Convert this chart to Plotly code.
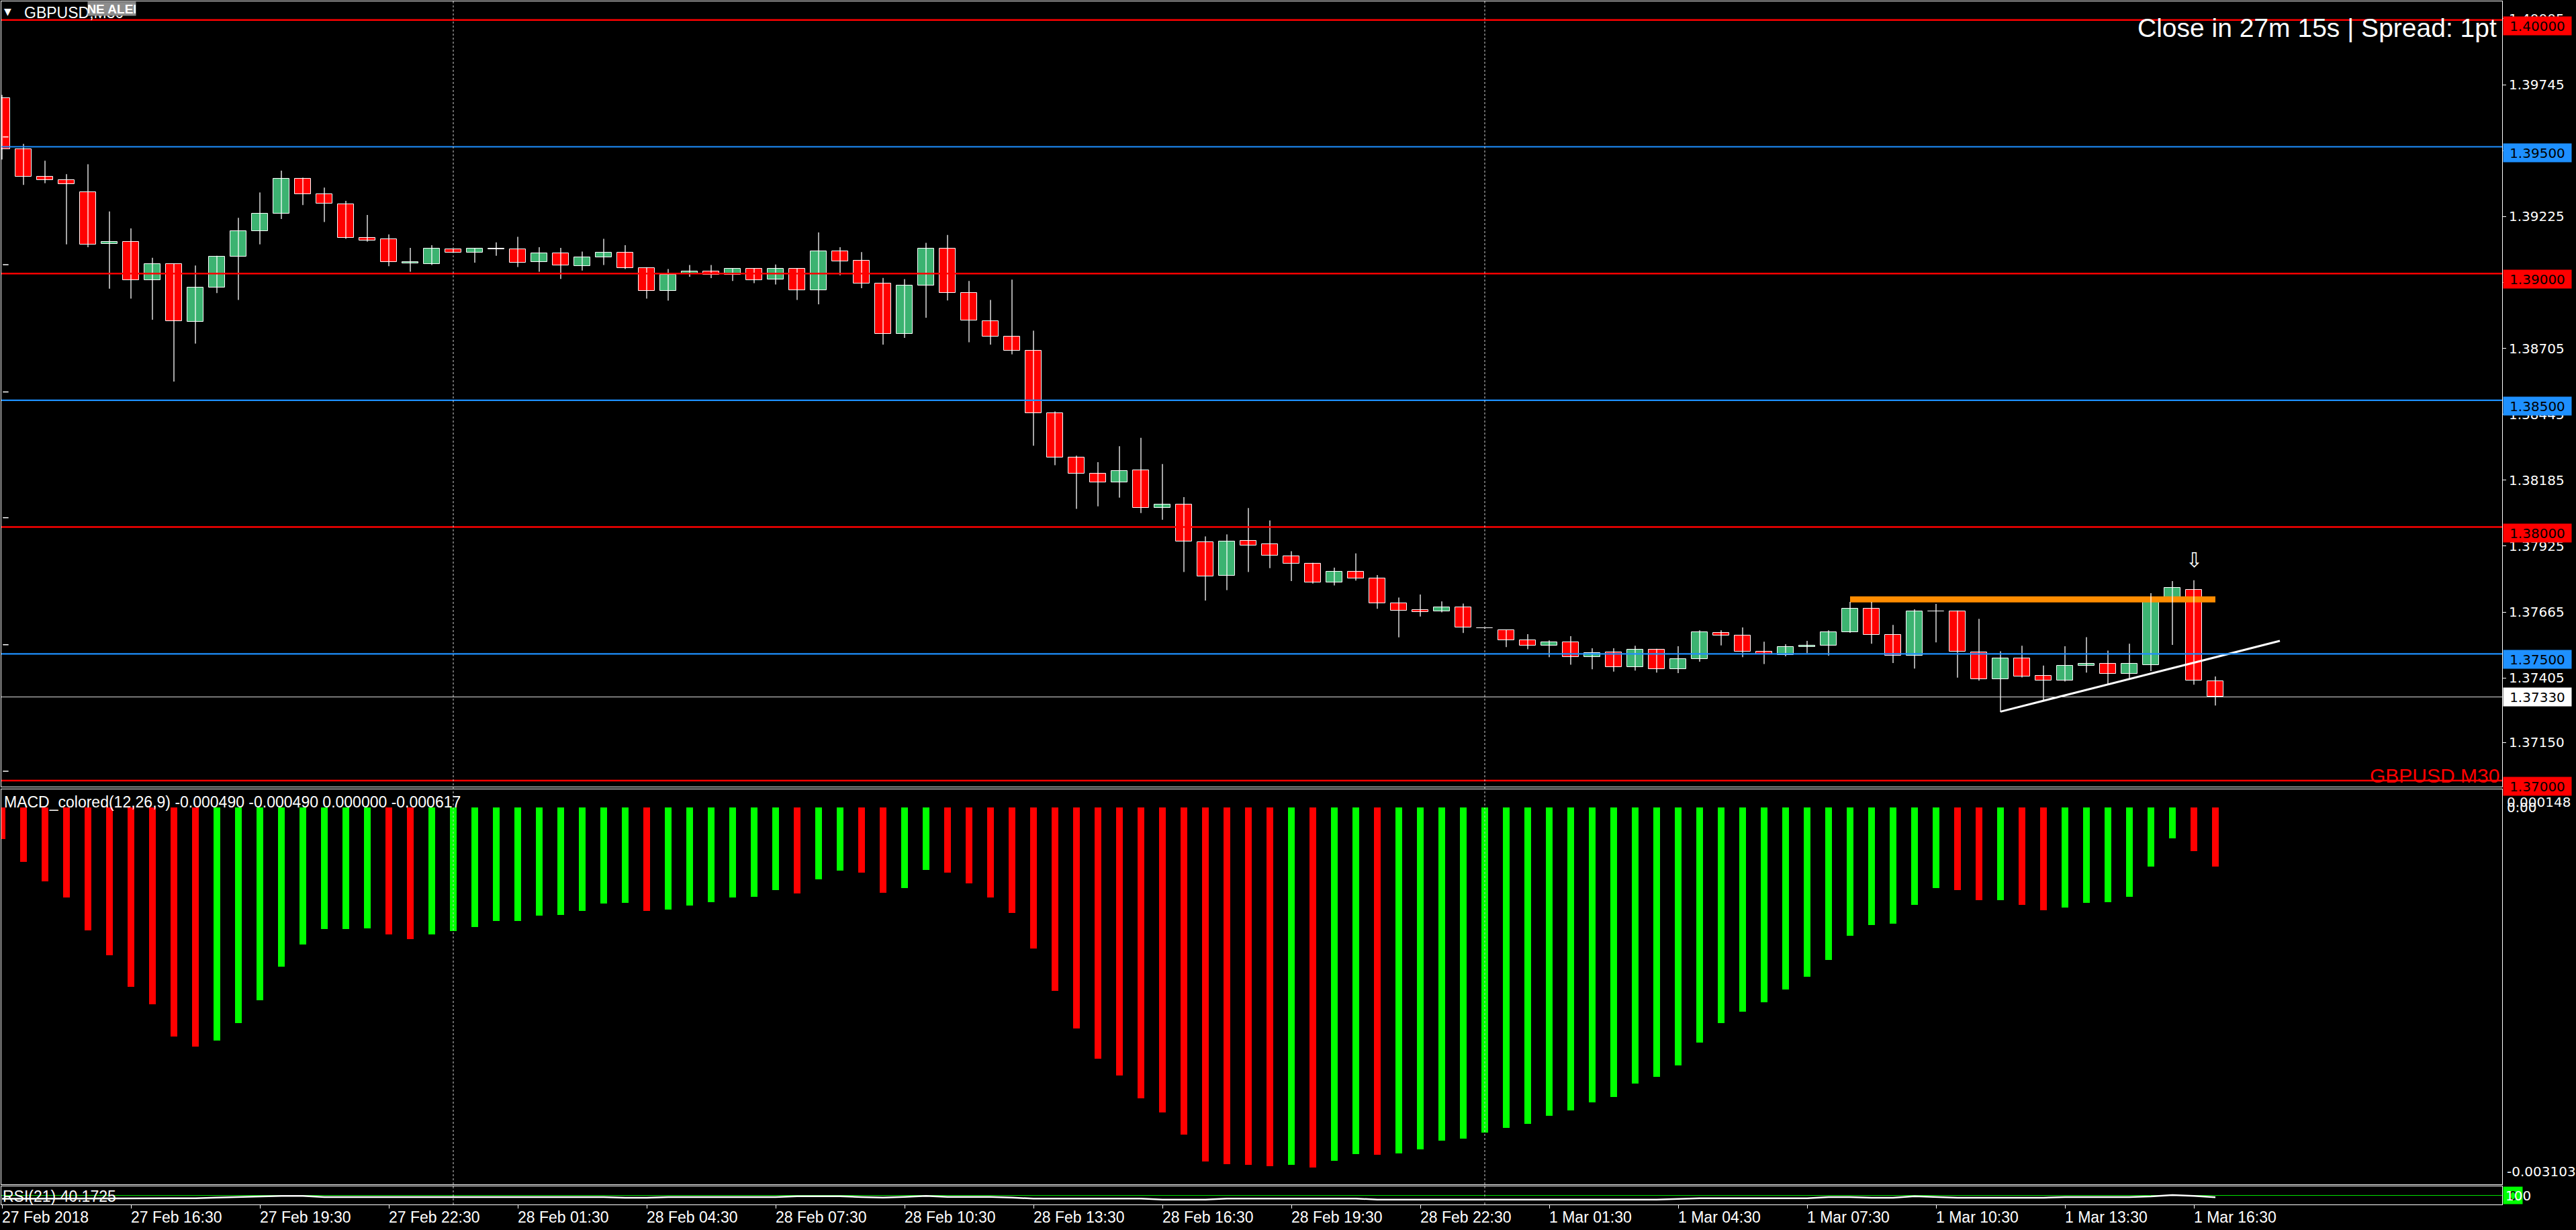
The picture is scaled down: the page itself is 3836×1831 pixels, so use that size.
import plotly.graph_objects as go

W, H = 3836, 1831

# ---------------- data (GBPUSD M30, bar 0 = 27 Feb 13:30) ----------------
opens = [1.39691, 1.39492, 1.39381, 1.39370, 1.39320, 1.39117, 1.39126, 1.38973, 1.39037, 1.38810,
         1.38946, 1.39068, 1.39167, 1.39237, 1.39375, 1.39312, 1.39273, 1.39142, 1.39137, 1.39040,
         1.39037, 1.39095, 1.39084, 1.39097, 1.39095, 1.39045, 1.39081, 1.39029, 1.39065, 1.39084,
         1.39023, 1.38932, 1.38998, 1.39009, 1.38996, 1.39018, 1.38978, 1.39019, 1.38935, 1.39087,
         1.39051, 1.38961, 1.38763, 1.38952, 1.39099, 1.38925, 1.38812, 1.38751, 1.38696, 1.38449,
         1.38275, 1.38210, 1.38176, 1.38224, 1.38077, 1.38089, 1.37942, 1.37809, 1.37946, 1.37932,
         1.37886, 1.37855, 1.37782, 1.37823, 1.37797, 1.37700, 1.37673, 1.37669, 1.37683, 1.37601,
         1.37593, 1.37553, 1.37533, 1.37545, 1.37488, 1.37507, 1.37447, 1.37518, 1.37439, 1.37480,
         1.37583, 1.37573, 1.37510, 1.37495, 1.37527, 1.37533, 1.37585, 1.37679, 1.37575, 1.37493,
         1.37667, 1.37669, 1.37507, 1.37399, 1.37483, 1.37414, 1.37396, 1.37454, 1.37462, 1.37422,
         1.37457, 1.37722, 1.37752, 1.37391]
highs = [1.39705, 1.39511, 1.39445, 1.39392, 1.39431, 1.39245, 1.39178, 1.39062, 1.39040, 1.39032,
         1.39070, 1.39220, 1.39320, 1.39406, 1.39378, 1.39339, 1.39287, 1.39231, 1.39154, 1.39101,
         1.39112, 1.39097, 1.39099, 1.39123, 1.39145, 1.39104, 1.39101, 1.39087, 1.39137, 1.39112,
         1.39025, 1.39018, 1.39034, 1.39034, 1.39019, 1.39019, 1.39036, 1.39021, 1.39162, 1.39104,
         1.39085, 1.38983, 1.38978, 1.39121, 1.39152, 1.38971, 1.38896, 1.38976, 1.38775, 1.38456,
         1.38282, 1.38256, 1.38319, 1.38352, 1.38249, 1.38118, 1.37963, 1.37971, 1.38075, 1.38026,
         1.37905, 1.37859, 1.37840, 1.37896, 1.37811, 1.37722, 1.37734, 1.37707, 1.37698, 1.37603,
         1.37596, 1.37578, 1.37553, 1.37570, 1.37522, 1.37522, 1.37532, 1.37520, 1.37530, 1.37593,
         1.37593, 1.37604, 1.37548, 1.37538, 1.37551, 1.37593, 1.37705, 1.37705, 1.37614, 1.37676,
         1.37697, 1.37671, 1.37638, 1.37510, 1.37532, 1.37454, 1.37530, 1.37566, 1.37513, 1.37540,
         1.37739, 1.37787, 1.37790, 1.37411]
lows = [1.39450, 1.39350, 1.39356, 1.39115, 1.39104, 1.38940, 1.38901, 1.38818, 1.38574, 1.38724,
        1.38923, 1.38896, 1.39115, 1.39215, 1.39270, 1.39203, 1.39137, 1.39126, 1.39029, 1.39007,
        1.39034, 1.39082, 1.39043, 1.39070, 1.39026, 1.39007, 1.38979, 1.39012, 1.39034, 1.39018,
        1.38901, 1.38893, 1.38987, 1.38982, 1.38971, 1.38962, 1.38957, 1.38896, 1.38879, 1.38993,
        1.38942, 1.38720, 1.38746, 1.38826, 1.38894, 1.38729, 1.38720, 1.38681, 1.38321, 1.38244,
        1.38072, 1.38082, 1.38116, 1.38055, 1.38029, 1.37823, 1.37710, 1.37751, 1.37823, 1.37838,
        1.37787, 1.37777, 1.37770, 1.37789, 1.37678, 1.37565, 1.37647, 1.37664, 1.37582, 1.37598,
        1.37527, 1.37518, 1.37487, 1.37457, 1.37439, 1.37430, 1.37434, 1.37426, 1.37424, 1.37469,
        1.37533, 1.37487, 1.37460, 1.37490, 1.37503, 1.37493, 1.37583, 1.37540, 1.37464, 1.37442,
        1.37545, 1.37406, 1.37394, 1.37270, 1.37407, 1.37316, 1.37391, 1.37426, 1.37378, 1.37404,
        1.37432, 1.37535, 1.37378, 1.37296]
closes = [1.39492, 1.39381, 1.39370, 1.39353, 1.39115, 1.39126, 1.38973, 1.39037, 1.38813, 1.38946,
          1.39068, 1.39167, 1.39237, 1.39375, 1.39312, 1.39276, 1.39142, 1.39131, 1.39045, 1.39045,
          1.39098, 1.39084, 1.39098, 1.39099, 1.39043, 1.39081, 1.39032, 1.39065, 1.39084, 1.39023,
          1.38932, 1.38996, 1.39009, 1.38996, 1.39018, 1.38975, 1.39019, 1.38935, 1.39087, 1.39048,
          1.38961, 1.38763, 1.38954, 1.39099, 1.38925, 1.38814, 1.38751, 1.38696, 1.38449, 1.38275,
          1.38212, 1.38176, 1.38222, 1.38077, 1.38089, 1.37944, 1.37806, 1.37944, 1.37927, 1.37888,
          1.37855, 1.37782, 1.37823, 1.37797, 1.37700, 1.37671, 1.37664, 1.37685, 1.37603, 1.37601,
          1.37555, 1.37533, 1.37545, 1.37488, 1.37503, 1.37447, 1.37518, 1.37439, 1.37480, 1.37586,
          1.37573, 1.37510, 1.37497, 1.37528, 1.37533, 1.37585, 1.37679, 1.37576, 1.37493, 1.37667,
          1.37667, 1.37510, 1.37399, 1.37483, 1.37411, 1.37396, 1.37454, 1.37460, 1.37421, 1.37460,
          1.37722, 1.37760, 1.37394, 1.37330]

macd_hist = [-0.000259, -0.000450, -0.000607, -0.000741, -0.001013, -0.001217, -0.001477, -0.001623, -0.001884, -0.001971,
             -0.001918, -0.001774, -0.001588, -0.001309, -0.001130, -0.001002, -0.001000, -0.000996, -0.001048, -0.001083,
             -0.001048, -0.001019, -0.000984, -0.000938, -0.000936, -0.000892, -0.000886, -0.000851, -0.000793, -0.000787,
             -0.000851, -0.000839, -0.000810, -0.000781, -0.000741, -0.000735, -0.000682, -0.000707, -0.000591, -0.000520,
             -0.000540, -0.000702, -0.000667, -0.000515, -0.000535, -0.000626, -0.000742, -0.000869, -0.001162, -0.001512,
             -0.001820, -0.002068, -0.002205, -0.002397, -0.002513, -0.002696, -0.002913, -0.002935, -0.002945, -0.002952,
             -0.002940, -0.002965, -0.002908, -0.002853, -0.002858, -0.002850, -0.002817, -0.002746, -0.002726, -0.002680,
             -0.002641, -0.002605, -0.002539, -0.002494, -0.002428, -0.002386, -0.002275, -0.002220, -0.002123, -0.001939,
             -0.001776, -0.001683, -0.001606, -0.001499, -0.001395, -0.001256, -0.001055, -0.000968, -0.000958, -0.000802,
             -0.000663, -0.000680, -0.000767, -0.000764, -0.000805, -0.000847, -0.000823, -0.000784, -0.000782, -0.000739,
             -0.000488, -0.000257, -0.000361, -0.000490]

rsi_vals = [31.5, 31.8, 32.0, 32.0, 32.1, 32.1, 32.0, 32.0, 32.1, 34.6,
            38.3, 42.0, 45.7, 46.9, 46.9, 40.7, 40.7, 40.7, 40.7, 40.7,
            40.7, 40.7, 40.7, 40.7, 40.7, 40.7, 40.7, 40.7, 40.7, 37.0,
            37.0, 40.7, 40.7, 40.7, 40.7, 40.7, 40.7, 45.7, 45.7, 45.7,
            40.7, 38.3, 42.0, 46.9, 42.0, 42.0, 42.0, 38.3, 32.1, 32.1,
            32.1, 32.1, 32.1, 32.1, 27.2, 27.2, 27.2, 32.1, 32.1, 32.1,
            32.1, 32.1, 32.1, 32.1, 27.2, 27.2, 27.2, 27.2, 27.2, 27.2,
            27.2, 27.2, 27.2, 27.2, 27.2, 27.2, 27.2, 27.2, 30.9, 34.6,
            34.6, 34.6, 34.6, 34.6, 34.6, 40.7, 40.7, 37.0, 37.0, 45.7,
            40.7, 37.0, 37.0, 37.0, 37.0, 37.0, 40.7, 40.7, 40.7, 40.7,
            44.4, 51.9, 46.9, 40.17]
rsi_level = 50

time_label_pos = [0, 6, 12, 18, 24, 30, 36, 42, 48, 54, 60, 66, 72, 78, 84, 90, 96, 102]
time_labels = ["27 Feb 2018", "27 Feb 16:30", "27 Feb 19:30", "27 Feb 22:30", "28 Feb 01:30",
               "28 Feb 04:30", "28 Feb 07:30", "28 Feb 10:30", "28 Feb 13:30", "28 Feb 16:30",
               "28 Feb 19:30", "28 Feb 22:30", "1 Mar 01:30", "1 Mar 04:30", "1 Mar 07:30",
               "1 Mar 10:30", "1 Mar 13:30", "1 Mar 16:30"]
day_separators = [21, 69]

price_ticks = [1.40005, 1.39745, 1.39485, 1.39225, 1.38965, 1.38705, 1.38445,
               1.38185, 1.37925, 1.37665, 1.37405, 1.37150]
red_levels = [1.40000, 1.39000, 1.38000, 1.37000]
blue_levels = [1.39500, 1.38500, 1.37500]
bid_price = 1.37330
left_marks = [1.39539, 1.39035, 1.38533, 1.38037, 1.37536, 1.37037]

resistance_x = [86, 103]
resistance_y = [1.37715, 1.37715]
trend_x = [93, 106]
trend_y = [1.37272, 1.37551]
arrow_x, arrow_y = 102, 1.37871

macd_max, macd_min = 0.000148, -0.003103
macd_title = "MACD_colored(12,26,9) -0.000490 -0.000490 0.000000 -0.000617"
rsi_title = "RSI(21) 40.1725"
timer_text = "Close in 27m 15s | Spread: 1pt"

# ---------------- styling ----------------
BULL = "#3CB371"
BEAR = "#FF0000"
MACD_UP = "#00FF00"
MACD_DN = "#FF0000"
LVL_RED = "#FF0000"
LVL_BLUE = "#1E90FF"
SANS = "Liberation Sans, Arial, sans-serif"
AXF = "DejaVu Sans, Verdana, sans-serif"


def px(x):
    return x / W


def py(y):
    return 1 - y / H


N = len(opens)
X_RANGE = [(2 - 3) / 32, (3726 - 3) / 32]
Y_MAIN = [1.369762, 1.400737]
MIN_BODY = 0.000012

fig = go.Figure()

# resistance (orange) behind candles
fig.add_trace(go.Scatter(x=resistance_x, y=resistance_y, mode="lines",
                         line=dict(color="#FF8C00", width=9), xaxis="x", yaxis="y",
                         hoverinfo="skip"))

# wicks
wx, wy = [], []
for i in range(N):
    wx += [i, i, None]
    wy += [lows[i], highs[i], None]
fig.add_trace(go.Scatter(x=wx, y=wy, mode="lines", line=dict(color="white", width=1.3),
                         xaxis="x", yaxis="y", hoverinfo="skip"))

bull_i = [i for i in range(N) if closes[i] >= opens[i]]
bear_i = [i for i in range(N) if closes[i] < opens[i]]
fig.add_trace(go.Bar(x=bull_i, base=[opens[i] for i in bull_i],
                     y=[max(closes[i] - opens[i], MIN_BODY) for i in bull_i],
                     width=0.75, marker=dict(color=BULL, line=dict(color="white", width=1)),
                     xaxis="x", yaxis="y", hoverinfo="skip"))
fig.add_trace(go.Bar(x=bear_i, base=[closes[i] for i in bear_i],
                     y=[max(opens[i] - closes[i], MIN_BODY) for i in bear_i],
                     width=0.75, marker=dict(color=BEAR, line=dict(color="white", width=1)),
                     xaxis="x", yaxis="y", hoverinfo="skip"))

# trendline (white)
fig.add_trace(go.Scatter(x=trend_x, y=trend_y, mode="lines", line=dict(color="white", width=3),
                         xaxis="x", yaxis="y", hoverinfo="skip"))

# small left marks
fig.add_trace(go.Scatter(x=[0.17] * len(left_marks), y=left_marks, mode="markers",
                         marker=dict(symbol="line-ew", size=6, line=dict(color="white", width=1.5)),
                         xaxis="x", yaxis="y", hoverinfo="skip"))

# MACD histogram
macd_colors = []
for k, v in enumerate(macd_hist):
    macd_colors.append(MACD_UP if (k > 0 and v > macd_hist[k - 1]) else MACD_DN)
fig.add_trace(go.Bar(x=list(range(N)), y=macd_hist, width=0.29,
                     marker=dict(color=macd_colors, line=dict(width=0)),
                     xaxis="x2", yaxis="y2", hoverinfo="skip"))

# RSI
fig.add_trace(go.Scatter(x=list(range(N)), y=rsi_vals, mode="lines",
                         line=dict(color="white", width=2.5), xaxis="x3", yaxis="y3",
                         hoverinfo="skip"))

axis_common = dict(showgrid=False, zeroline=False, showline=True, mirror=True,
                   linecolor="white", linewidth=1)

shapes = []
for lv in red_levels:
    shapes.append(dict(type="line", xref="x domain", x0=0, x1=1, yref="y", y0=lv, y1=lv,
                       line=dict(color=LVL_RED, width=2.5), layer="above"))
for lv in blue_levels:
    shapes.append(dict(type="line", xref="x domain", x0=0, x1=1, yref="y", y0=lv, y1=lv,
                       line=dict(color=LVL_BLUE, width=2.2), layer="above"))
shapes.append(dict(type="line", xref="x domain", x0=0, x1=1, yref="y", y0=bid_price, y1=bid_price,
                   line=dict(color="#E0E0E0", width=1), layer="above"))
shapes.append(dict(type="line", xref="x3 domain", x0=0, x1=1, yref="y3", y0=rsi_level, y1=rsi_level,
                   line=dict(color="#00E000", width=1), layer="below"))
for s in day_separators:
    shapes.append(dict(type="line", xref="x", x0=s, x1=s, yref="paper", y0=py(1793), y1=py(2),
                       line=dict(color="#D0D0D0", width=1, dash="3px,3px"), layer="above"))

annotations = []
# level boxes on the price scale
for lv, col in [(v, LVL_RED) for v in red_levels] + [(v, LVL_BLUE) for v in blue_levels]:
    annotations.append(dict(xref="paper", x=px(3727), xanchor="left", yref="y", y=lv,
                            yanchor="top", yshift=6, text=f"{lv:.5f}", showarrow=False,
                            bgcolor=col, width=101, height=27, borderpad=0,
                            font=dict(family=AXF, size=20, color="black")))
annotations.append(dict(xref="paper", x=px(3727), xanchor="left", yref="y", y=bid_price,
                        yanchor="middle", text=f"{bid_price:.5f}", showarrow=False,
                        bgcolor="white", width=101, height=27, borderpad=0,
                        font=dict(family=AXF, size=20, color="black")))

# MACD scale labels
annotations.append(dict(xref="paper", x=px(3731), xanchor="left", yref="y2", y=macd_max,
                        yanchor="top", yshift=-5, text=f"{macd_max:.6f}", showarrow=False,
                        font=dict(family=AXF, size=20, color="white")))
annotations.append(dict(xref="paper", x=px(3731), xanchor="left", yref="y2", y=0,
                        yanchor="middle", text="0.00", showarrow=False,
                        font=dict(family=AXF, size=20, color="white")))
annotations.append(dict(xref="paper", x=px(3731), xanchor="left", yref="y2", y=macd_min,
                        yanchor="bottom", yshift=5, text=f"{macd_min:.6f}", showarrow=False,
                        font=dict(family=AXF, size=20, color="white")))
# RSI scale labels
annotations.append(dict(xref="paper", x=px(3727), xanchor="left", yref="paper", y=py(1779.5),
                        yanchor="middle", text="0", showarrow=False, bgcolor="#00FF00",
                        width=28, height=25, borderpad=0,
                        font=dict(family=AXF, size=20, color="black")))
annotations.append(dict(xref="paper", x=px(3729), xanchor="left", yref="paper", y=py(1779.5),
                        yanchor="middle", text="100", showarrow=False,
                        font=dict(family=AXF, size=20, color="white")))

# time labels (left-aligned at their tick)
for pos, lab in zip(time_label_pos, time_labels):
    annotations.append(dict(xref="x3", x=pos, xanchor="left", xshift=-2, yref="paper", y=py(1812),
                            yanchor="middle", text=lab, showarrow=False,
                            font=dict(family=SANS, size=23, color="white")))

# pane titles
annotations.append(dict(xref="paper", x=px(4), xanchor="left", yref="paper", y=py(17),
                        yanchor="middle", text="▼", showarrow=False,
                        font=dict(family=AXF, size=14, color="white")))
annotations.append(dict(xref="paper", x=px(34), xanchor="left", yref="paper", y=py(19),
                        yanchor="middle", text="GBPUSD,M30", showarrow=False,
                        font=dict(family=SANS, size=23, color="white")))
annotations.append(dict(xref="paper", x=px(130), xanchor="left", yref="paper", y=py(13),
                        yanchor="middle", text="<b>NE ALEI</b>", showarrow=False,
                        bgcolor="#8C8C8C", width=71, height=20, borderpad=0,
                        font=dict(family=SANS, size=19, color="white")))
annotations.append(dict(xref="paper", x=px(3720), xanchor="right", yref="paper", y=py(41),
                        yanchor="middle", text=timer_text, showarrow=False,
                        font=dict(family=SANS, size=39, color="white")))
annotations.append(dict(xref="paper", x=px(3724), xanchor="right", yref="paper", y=py(1154),
                        yanchor="middle", text="GBPUSD M30", showarrow=False,
                        font=dict(family=SANS, size=30, color="#FF0000")))
annotations.append(dict(xref="paper", x=px(4), xanchor="left", yref="paper", y=py(1194),
                        yanchor="middle", text=macd_title, showarrow=False,
                        font=dict(family=SANS, size=23, color="white")))
annotations.append(dict(xref="paper", x=px(2), xanchor="left", yref="paper", y=py(1781),
                        yanchor="middle", text=rsi_title, showarrow=False,
                        font=dict(family=SANS, size=23, color="white")))
# signal arrow
annotations.append(dict(xref="x", x=arrow_x, yref="y", y=arrow_y, text="⇩", showarrow=False,
                        xanchor="center", yanchor="middle",
                        font=dict(family=AXF, size=30, color="white")))

fig.update_layout(
    width=W, height=H, autosize=False,
    margin=dict(l=0, r=0, t=0, b=0, pad=0),
    paper_bgcolor="black", plot_bgcolor="black",
    showlegend=False, barmode="overlay", bargap=0,
    xaxis=dict(domain=[px(2), px(3726)], range=X_RANGE, anchor="y",
               showticklabels=False, ticks="", **axis_common),
    xaxis2=dict(domain=[px(2), px(3726)], range=X_RANGE, anchor="y2", matches="x",
                showticklabels=False, ticks="", **axis_common),
    xaxis3=dict(domain=[px(2), px(3726)], range=X_RANGE, anchor="y3", matches="x",
                showticklabels=False, ticks="outside", ticklen=5, tickwidth=1,
                tickcolor="white", tickvals=time_label_pos, **axis_common),
    yaxis=dict(domain=[py(1171), py(2)], range=Y_MAIN, anchor="x", side="right",
               tickvals=price_ticks, ticktext=[f"{t:.5f}" for t in price_ticks],
               ticks="outside", ticklen=5, tickwidth=1, tickcolor="white",
               tickfont=dict(family=AXF, size=20, color="white"), **axis_common),
    yaxis2=dict(domain=[py(1763), py(1175)], range=[macd_min, macd_max], anchor="x2",
                side="right", showticklabels=False, ticks="", **axis_common),
    yaxis3=dict(domain=[py(1793), py(1766)], range=[0, 100], anchor="x3",
                side="right", showticklabels=False, ticks="", **axis_common),
    shapes=shapes,
    annotations=annotations,
)

page_fix = ("document.body.style.margin='0';document.body.style.padding='0';"
            "document.body.style.background='black';document.body.style.overflow='hidden';"
            "document.documentElement.style.background='black';")
fig.write_html("out.html", post_script=page_fix,
               config={"displayModeBar": False, "responsive": False})
